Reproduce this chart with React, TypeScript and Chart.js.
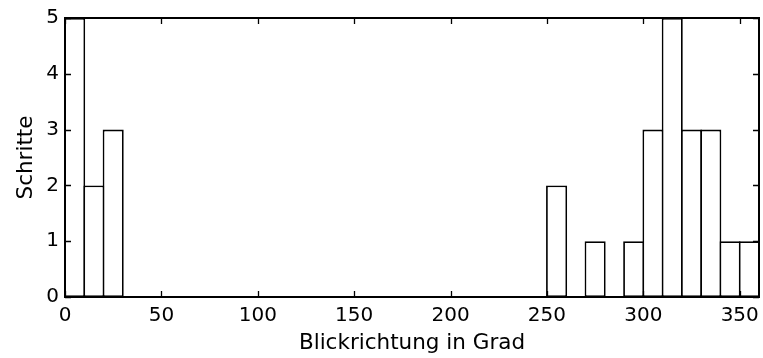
import React, { useEffect, useRef } from 'react';
import { Chart, registerables } from 'chart.js';

Chart.register(...registerables);

// ---- data ----
const binStarts = [0, 10, 20, 30, 40, 50, 60, 70, 80, 90, 100, 110, 120, 130, 140, 150, 160, 170, 180, 190, 200, 210, 220, 230, 240, 250, 260, 270, 280, 290, 300, 310, 320, 330, 340, 350];
const counts = [5, 2, 3, 0, 0, 0, 0, 0, 0, 0, 0, 0, 0, 0, 0, 0, 0, 0, 0, 0, 0, 0, 0, 0, 0, 2, 0, 1, 0, 1, 3, 5, 3, 3, 1, 1];
const binWidth = 10;
const xTickValues = [0, 50, 100, 150, 200, 250, 300, 350];
const yTickValues = [0, 1, 2, 3, 4, 5];
const xLabel = 'Blickrichtung in Grad';
const yLabel = 'Schritte';

// ---- style ----
const FONT = '"DejaVu Sans", sans-serif';
const CANVAS_W = 763;
const CANVAS_H = 358;
const AREA = { left: 65, top: 18, right: 759, bottom: 297 };
const BAR_LINE = 1.8;
const FRAME_LINE = 2;
const TICK_LEN = 6;

const frameTicks = {
  id: 'frameTicks',
  afterDraw(chart: any) {
    const { ctx, chartArea, scales } = chart;
    const { left, right, top, bottom } = chartArea;
    ctx.save();
    ctx.strokeStyle = '#000';
    ctx.lineWidth = 1.3;
    ctx.beginPath();
    for (const v of xTickValues) {
      const px = Math.round(scales.x.getPixelForValue(v)) + 0.5;
      ctx.moveTo(px, bottom);
      ctx.lineTo(px, bottom - TICK_LEN);
      ctx.moveTo(px, top);
      ctx.lineTo(px, top + TICK_LEN);
    }
    for (const v of yTickValues) {
      const py = Math.round(scales.y.getPixelForValue(v)) + 0.5;
      ctx.moveTo(left, py);
      ctx.lineTo(left + TICK_LEN, py);
      ctx.moveTo(right, py);
      ctx.lineTo(right - TICK_LEN, py);
    }
    ctx.stroke();
    ctx.lineWidth = FRAME_LINE;
    ctx.strokeRect(left, top, right - left, bottom - top);
    ctx.restore();
  },
};

export default function App() {
  const ref = useRef<HTMLCanvasElement | null>(null);

  useEffect(() => {
    document.body.style.margin = '0';
    const binPx = (AREA.right - AREA.left) / (360 / binWidth);
    const chart = new Chart(ref.current as HTMLCanvasElement, {
      type: 'bar',
      data: {
        datasets: [
          {
            data: binStarts.map((s, i) => ({ x: s + binWidth / 2, y: counts[i] })),
            backgroundColor: '#ffffff',
            borderColor: '#000000',
            borderWidth: BAR_LINE,
            borderSkipped: false,
            barPercentage: 1 + BAR_LINE / binPx,
            categoryPercentage: 1,
          } as any,
        ],
      },
      options: {
        animation: false,
        responsive: false,
        maintainAspectRatio: false,
        layout: { padding: { left: 0, top: AREA.top, right: CANVAS_W - AREA.right, bottom: 0 } },
        plugins: { legend: { display: false }, tooltip: { enabled: false } },
        scales: {
          x: {
            type: 'linear',
            min: 0,
            max: 360,
            offset: false,
            grid: { display: false, offset: false, drawTicks: false },
            border: { display: false },
            afterBuildTicks: (scale: any) => {
              scale.ticks = xTickValues.map((v) => ({ value: v }));
            },
            afterFit: (scale: any) => {
              scale.height = CANVAS_H - AREA.bottom;
              scale.paddingLeft = 0;
              scale.paddingRight = 0;
            },
            ticks: {
              padding: 7,
              maxRotation: 0,
              color: '#000',
              font: { family: FONT, size: 20 },
              callback: (v: any) => String(v),
            },
            title: {
              display: true,
              text: xLabel,
              color: '#000',
              font: { family: FONT, size: 21.5 },
              padding: { top: 0, bottom: 2 },
            },
          },
          y: {
            type: 'linear',
            min: 0,
            max: 5,
            grid: { display: false, drawTicks: false },
            border: { display: false },
            afterBuildTicks: (scale: any) => {
              scale.ticks = yTickValues.map((v) => ({ value: v }));
            },
            afterFit: (scale: any) => {
              scale.width = AREA.left;
              scale.paddingTop = 0;
              scale.paddingBottom = 0;
            },
            ticks: {
              padding: 6,
              color: '#000',
              font: { family: FONT, size: 20 },
              callback: (v: any) => String(v),
            },
            title: {
              display: true,
              text: yLabel,
              color: '#000',
              font: { family: FONT, size: 21.5 },
              padding: { top: 14, bottom: 0 },
            },
          },
        },
      },
      plugins: [frameTicks],
    });
    return () => chart.destroy();
  }, []);

  return (
    <div style={{ position: 'relative', width: CANVAS_W, height: CANVAS_H, background: '#fff' }}>
      <canvas ref={ref} width={CANVAS_W} height={CANVAS_H} style={{ display: 'block' }} />
    </div>
  );
}
